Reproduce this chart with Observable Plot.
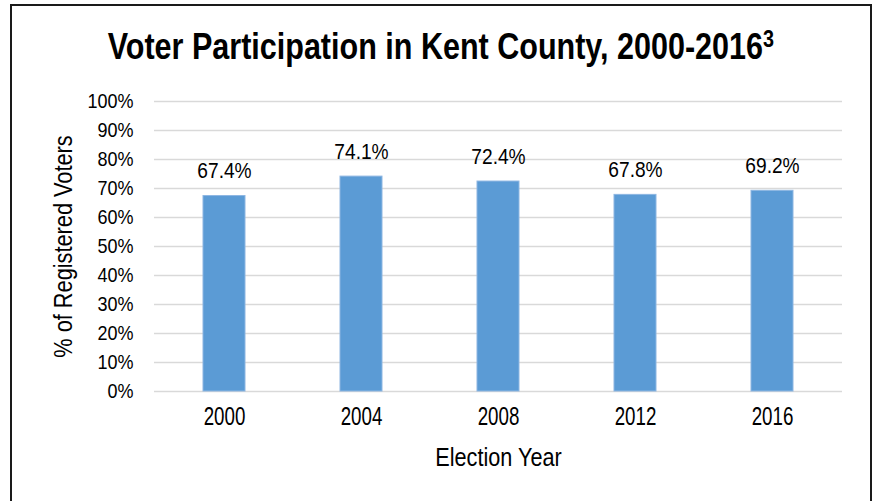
<!DOCTYPE html>
<html>
<head>
<meta charset="utf-8">
<script src="https://cdn.jsdelivr.net/npm/d3@7"></script>
<script src="https://cdn.jsdelivr.net/npm/@observablehq/plot@0.6"></script>
<style>
  html, body { margin: 0; padding: 0; background: #fff; }
  body { width: 874px; height: 501px; position: relative; overflow: hidden;
         font-family: "Liberation Sans", Arial, sans-serif; }
  #frame { position: absolute; left: 10px; top: 4px; width: 862px; height: 510px;
           box-sizing: border-box; border: 2px solid #1a1a1a; }
  #title { position: absolute; left: 10px; top: 27px; width: 862px; height: 40px; line-height: 40px;
           text-align: center; color: #000; white-space: nowrap; }
  #title span { display: inline-block; font-weight: bold; font-size: 37px; transform: scaleX(0.825);
                transform-origin: center; }
  #title sup { font-size: 24px; vertical-align: 12px; line-height: 0; }
  #chart { position: absolute; left: 0; top: 75px; }
</style>
</head>
<body>
<div id="frame"></div>
<div id="title"><span>Voter Participation in Kent County, 2000-2016<sup>3</sup></span></div>
<div id="chart"></div>
<script>
const years = ["2000", "2004", "2008", "2012", "2016"];
const turnout = [67.4, 74.1, 72.4, 67.8, 69.2];
const yTicks = [0, 10, 20, 30, 40, 50, 60, 70, 80, 90, 100];
const xLabel = "Election Year";
const yLabel = "% of Registered Voters";

const data = years.map((y, i) => ({year: y, value: turnout[i]}));

const chart = Plot.plot({
  width: 874,
  height: 426,
  marginTop: 26,
  marginBottom: 110,
  marginLeft: 154,
  marginRight: 32,
  style: {fontFamily: '"Liberation Sans", Arial, sans-serif', fontSize: "20px", color: "#000",
          background: "transparent", overflow: "visible"},
  x: {domain: years, paddingInner: 0.69, paddingOuter: 0.345, label: null},
  y: {domain: [0, 100], label: null},
  marks: [
    Plot.ruleY(yTicks, {stroke: "#d9d9d9", strokeWidth: 1.5}),
    Plot.barY(data, {x: "year", y: "value", fill: "#5b9bd5", stroke: "#8db6e2", strokeWidth: 1}),
    Plot.axisY({ticks: yTicks, tickFormat: d => d + "%", tickSize: 0, tickPadding: 21, fontSize: 20, label: null}),
    Plot.axisX({tickSize: 0, tickPadding: 16, fontSize: 25, label: null}),
    Plot.text(data, {x: "year", y: "value", text: d => d.value.toFixed(1) + "%", dy: -25,
                     fontSize: 22.3, fill: "#000", lineAnchor: "middle"}),
    Plot.text([xLabel], {frameAnchor: "bottom", text: d => d, dy: 66.5, fontSize: 25.5, fill: "#000",
                         lineAnchor: "middle"}),
    Plot.text([yLabel], {frameAnchor: "left", text: d => d, dx: -91, rotate: -90, fontSize: 25,
                         fill: "#000", textAnchor: "middle", lineAnchor: "middle"})
  ]
});

// Emulate the narrow (condensed) typeface of the original by compressing glyphs horizontally
const narrow = {"y-axis tick label": 0.9, "x-axis tick label": 0.75, "data-label": 0.86,
                "x-title": 0.85, "y-title": 0.87};
chart.querySelectorAll("text").forEach(t => {
  const g = t.closest("g[aria-label]");
  let key = g ? g.getAttribute("aria-label") : null;
  if (key === "text") {
    const s = t.textContent;
    key = s === xLabel ? "x-title" : s === yLabel ? "y-title" : "data-label";
  }
  const s = narrow[key];
  if (!s) return;
  const tr = t.getAttribute("transform") || "";
  t.setAttribute("transform", tr + ` scale(${s},1)`);
});
document.getElementById("chart").appendChild(chart);
</script>
</body>
</html>
